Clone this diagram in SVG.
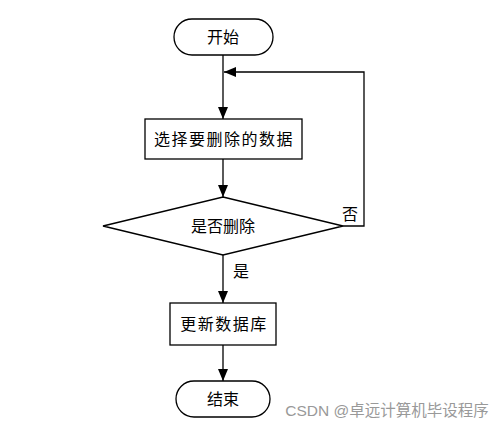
<svg xmlns="http://www.w3.org/2000/svg" width="499" height="425" viewBox="0 0 499 425">
<style>
.s{fill:#fff;stroke:#000;stroke-width:1.3}
.t{font-family:"Liberation Sans","Noto Sans CJK SC",sans-serif;font-size:16px;fill:#000;text-anchor:middle;dominant-baseline:central}
.w{letter-spacing:1.5px}
.c{fill:none;stroke:#000;stroke-width:1.3}
</style>
<defs>
<marker id="a" markerWidth="12" markerHeight="10" refX="12" refY="5" orient="auto" markerUnits="userSpaceOnUse">
<path d="M0,0 L12,5 L0,10 Z" fill="#000"/>
</marker>
</defs>
<rect width="499" height="425" fill="#fff"/>
<g id="connectors">
<path class="c" d="M223,55 V119" marker-end="url(#a)"/>
<path class="c" d="M223,159 V197" marker-end="url(#a)"/>
<path class="c" d="M223,255 V303" marker-end="url(#a)"/>
<path class="c" d="M223,345 V381" marker-end="url(#a)"/>
<path class="c" d="M343,226 H364 V72 H224" marker-end="url(#a)"/>
<text class="t" x="350" y="214">否</text>
<text class="t" x="241" y="271">是</text>
</g>
<g id="start">
<rect class="s" x="174" y="19" width="99" height="36" rx="18"/>
<text class="t" x="223" y="37">开始</text>
</g>
<g id="select">
<rect class="s" x="145" y="119" width="157" height="40"/>
<text class="t w" x="224" y="139">选择要删除的数据</text>
</g>
<g id="decide">
<polygon class="s" points="223,197 343,226 223,255 103,226"/>
<text class="t" x="223" y="226">是否删除</text>
</g>
<g id="update">
<rect class="s" x="170" y="303" width="106" height="42"/>
<text class="t w" x="224" y="324">更新数据库</text>
</g>
<g id="end">
<rect class="s" x="176" y="381" width="94" height="36" rx="18"/>
<text class="t" x="223" y="399">结束</text>
</g>
<text x="387" y="410" style="font-family:'Liberation Sans','Noto Sans CJK SC',sans-serif;font-size:15.5px;fill:#999;text-anchor:middle;dominant-baseline:central">CSDN @卓远计算机毕设程序</text>
</svg>
